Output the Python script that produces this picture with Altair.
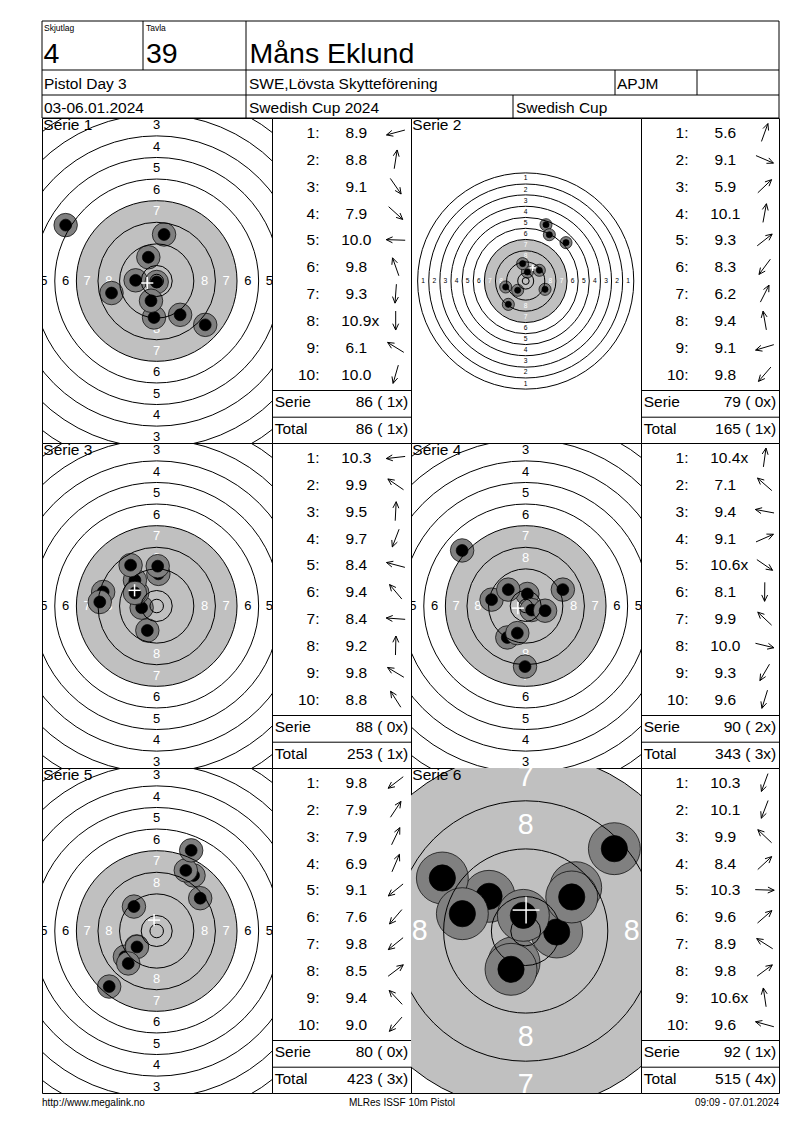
import math
import altair as alt
import pandas as pd

FONT = "Liberation Sans"

# ---------------- data ----------------
SQUAD_LABEL, SQUAD = "Skjutlag", "4"
LANE_LABEL, LANE = "Tavla", "39"
SHOOTER = "Måns Eklund"
EVENT = "Pistol Day 3"
CLUB = "SWE,Lövsta Skytteförening"
CLASS_CODE = "APJM"
DATES = "03-06.01.2024"
COMPETITION = "Swedish Cup 2024"
CUP = "Swedish Cup"
FOOTER = ["http://www.megalink.no", "MLRes ISSF 10m Pistol", "09:09 - 07.01.2024"]

SERIES = ["Serie 1", "Serie 2", "Serie 3", "Serie 4", "Serie 5", "Serie 6"]
SCORES = [
    ["8.9", "8.8", "9.1", "7.9", "10.0", "9.8", "9.3", "10.9x", "6.1", "10.0"],
    ["5.6", "9.1", "5.9", "10.1", "9.3", "8.3", "6.2", "9.4", "9.1", "9.8"],
    ["10.3", "9.9", "9.5", "9.7", "8.4", "9.4", "8.4", "9.2", "9.8", "8.8"],
    ["10.4x", "7.1", "9.4", "9.1", "10.6x", "8.1", "9.9", "10.0", "9.3", "9.6"],
    ["9.8", "7.9", "7.9", "6.9", "9.1", "7.6", "9.8", "8.5", "9.4", "9.0"],
    ["10.3", "10.1", "9.9", "8.4", "10.3", "9.6", "8.9", "9.8", "10.6x", "9.6"],
]
SERIE_RESULT = ["86 ( 1x)", "79 ( 0x)", "88 ( 0x)", "90 ( 2x)", "80 ( 0x)", "92 ( 1x)"]
TOTAL_RESULT = ["86 ( 1x)", "165 ( 1x)", "253 ( 1x)", "343 ( 3x)", "423 ( 3x)", "515 ( 4x)"]

# shot positions on the target in mm (x right, y up)
SHOT_X = [
    [-16.73, 2.73, 8.68, 17.97, -7.81, -3.10, -0.99, 0.00, -33.72, -2.11],
    [14.6, 13.9, 29.0, 1.2, 9.8, -12.5, 17.0, -2.2, -14.4, -5.8],
    [-5.58, -7.19, 0.62, -3.47, -19.83, -8.06, -21.08, 0.37, -8.06, -9.67],
    [0.62, -23.55, -12.64, 13.76, 2.2, -0.25, -6.45, 7.19, -6.82, -3.10],
    [-7.44, 13.64, 10.78, 12.77, -11.78, -17.60, -7.30, 16.11, -8.43, -10.54],
    [-1.95, -2.46, -6.14, 14.85, 5.19, 8.38, -13.96, 7.71, -0.39, -10.61],
]
SHOT_Y = [
    [-4.46, 17.23, -12.52, -16.24, 0.25, 8.80, -13.51, -0.37, 20.70, -7.31],
    [40.5, -6.0, 27.6, 6.5, 7.7, -16.8, 33.3, 12.5, -4.3, -6.7],
    [-0.62, 4.96, 11.9, -9.05, 5.21, 9.54, 1.49, 14.75, 4.83, 15.13],
    [4.46, 20.58, 2.36, 6.07, -1.5, -22.44, 6.07, -1.74, -11.65, -10.04],
    [-5.70, 20.58, 22.44, 29.87, -9.55, -20.58, -5.90, 12.15, 9.05, -12.02],
    [-5.30, -6.42, 5.81, 13.79, -0.17, 7.26, 8.88, 5.70, 2.62, 2.90],
]

# ---------------- target geometry (ISSF 10m air pistol, mm) ----------------
RING_R = [5.75 + 8 * (10 - n) for n in range(1, 11)]
INNER_TEN = 2.5
AIM_R = 29.75
PELLET_R = 2.2
HALO_R = 4.35
CROSS = 2.25

# ---------------- layout ----------------
ZOOM = [2.7, 1.39, 2.7, 2.7, 2.7, 5.97]   # px per mm in each target panel
COL_W = [230, 139, 230, 138]
ROW_H = 325
HEADER_H = 97
FOOTER_H = 20
TOTAL_W = sum(COL_W)
CX, CY = 114.7, 163.0
F_MED = 15.5


def px_scales(w, h):
    xs = alt.Scale(domain=[0, w], nice=False, zero=False)
    ys = alt.Scale(domain=[0, h], nice=False, zero=False, reverse=True)
    X = lambda f: alt.X(f, type="quantitative", scale=xs, axis=None)
    Y = lambda f: alt.Y(f, type="quantitative", scale=ys, axis=None)
    return X, Y


def target_view(i):
    s = ZOOM[i]
    w, h = COL_W[0], ROW_H
    xs = alt.Scale(domain=[-CX / s, (w - CX) / s], nice=False, zero=False)
    ys = alt.Scale(domain=[-(h - CY) / s, CY / s], nice=False, zero=False)
    X = lambda f: alt.X(f, type="quantitative", scale=xs, axis=None)
    Y = lambda f: alt.Y(f, type="quantitative", scale=ys, axis=None)
    SZ = alt.Size("sz:Q", scale=None)

    def diam2(r_mm):
        return (2 * r_mm * s) ** 2

    disc = alt.Chart(pd.DataFrame({"x": [0.0], "y": [0.0], "sz": [diam2(AIM_R)]})).mark_point(
        shape="circle", filled=True, color="#c0c0c0", opacity=1, clip=True
    ).encode(x=X("x"), y=Y("y"), size=SZ)

    lab = []
    for n in range(1, 9):
        r = RING_R[n - 1] - 4
        c = "white" if n >= 7 else "black"
        for dx, dy in [(0, 1), (0, -1), (-1, 0), (1, 0)]:
            lab.append({"x": dx * r, "y": dy * r, "t": str(n), "c": c})
    labels = alt.Chart(pd.DataFrame(lab)).mark_text(
        font=FONT, fontSize=4.8 * s, align="center", baseline="middle", clip=True
    ).encode(x=X("x"), y=Y("y"), text="t:N", color=alt.Color("c:N", scale=None))

    sh = []
    for k in range(10):
        sh.append({"x": SHOT_X[i][k], "y": SHOT_Y[i][k], "sz": diam2(HALO_R), "c": "#808080"})
        sh.append({"x": SHOT_X[i][k], "y": SHOT_Y[i][k], "sz": diam2(PELLET_R), "c": "#000000"})
    shots = alt.Chart(pd.DataFrame(sh)).mark_point(
        shape="circle", filled=True, opacity=1, stroke="black", strokeWidth=0.7, clip=True
    ).encode(x=X("x"), y=Y("y"), size=SZ, color=alt.Color("c:N", scale=None))

    rings = alt.Chart(pd.DataFrame({"x": 0.0, "y": 0.0,
                                    "sz": [diam2(r) for r in RING_R + [INNER_TEN]]})).mark_point(
        shape="circle", filled=False, color="black", strokeWidth=1, opacity=1, clip=True
    ).encode(x=X("x"), y=Y("y"), size=SZ)

    mx = sum(SHOT_X[i]) / 10
    my = sum(SHOT_Y[i]) / 10
    cross = alt.Chart(pd.DataFrame({
        "x1": [mx - CROSS, mx], "x2": [mx + CROSS, mx],
        "y1": [my, my - CROSS], "y2": [my, my + CROSS],
    })).mark_rule(color="white", strokeWidth=1.5, clip=True).encode(
        x=X("x1"), x2="x2:Q", y=Y("y1"), y2="y2:Q"
    )

    title = alt.Chart(pd.DataFrame({"t": [SERIES[i]]})).mark_text(
        font=FONT, fontSize=F_MED, align="left", baseline="alphabetic", color="black"
    ).encode(text="t:N", x=alt.value(1.3), y=alt.value(11.7))

    return alt.layer(disc, labels, shots, rings, cross, title).properties(
        width=w, height=h,
        view=alt.ViewBackground(stroke="black", strokeWidth=1, fill="white"),
    )


def text_width(t, size):
    wd = {".": 0.278}
    return sum(wd.get(ch, 0.556) for ch in t) * size


def table_view(i, w):
    h = ROW_H
    X, Y = px_scales(w, h)

    base = [20.0 + 26.86 * k for k in range(10)]
    num_x, score_c, arrow_c = 47.5, 84.3, 123.7

    nums = alt.Chart(pd.DataFrame({"x": num_x, "y": base, "t": [f"{k + 1}:" for k in range(10)]})).mark_text(
        font=FONT, fontSize=F_MED, align="right", baseline="alphabetic", color="black"
    ).encode(x=X("x"), y=Y("y"), text="t:N")

    main = [sc[:-1] if sc.endswith("x") else sc for sc in SCORES[i]]
    scores = alt.Chart(pd.DataFrame({"x": score_c, "y": base, "t": main})).mark_text(
        font=FONT, fontSize=F_MED, align="center", baseline="alphabetic", color="black"
    ).encode(x=X("x"), y=Y("y"), text="t:N")

    xs_rows = [
        {"x": score_c + text_width(main[k], F_MED) / 2, "y": base[k], "t": "x"}
        for k in range(10) if SCORES[i][k].endswith("x")
    ]
    layers = [nums, scores]
    if xs_rows:
        layers.append(alt.Chart(pd.DataFrame(xs_rows)).mark_text(
            font=FONT, fontSize=F_MED, align="left", baseline="alphabetic", color="black"
        ).encode(x=X("x"), y=Y("y"), text="t:N"))

    seg = []
    L, HL, HA = 19.0, 7.0, math.radians(25)
    for k in range(10):
        a = math.atan2(SHOT_Y[i][k], SHOT_X[i][k])
        cy = base[k] - 5.5
        tipx, tipy = arrow_c + L / 2 * math.cos(a), cy - L / 2 * math.sin(a)
        tlx, tly = arrow_c - L / 2 * math.cos(a), cy + L / 2 * math.sin(a)
        seg.append({"x1": tlx, "y1": tly, "x2": tipx, "y2": tipy})
        for sgn in (1, -1):
            b = a + sgn * HA
            seg.append({"x1": tipx, "y1": tipy,
                        "x2": tipx - HL * math.cos(b), "y2": tipy + HL * math.sin(b)})
    for yy in (272.5, 299.2):
        seg.append({"x1": 0, "y1": yy, "x2": w, "y2": yy})
    rules = alt.Chart(pd.DataFrame(seg)).mark_rule(color="black", strokeWidth=1).encode(
        x=X("x1"), x2="x2:Q", y=Y("y1"), y2="y2:Q"
    )
    layers.append(rules)

    lab = alt.Chart(pd.DataFrame({"x": 2.7, "y": [289.2, 315.8], "t": ["Serie", "Total"]})).mark_text(
        font=FONT, fontSize=F_MED, align="left", baseline="alphabetic", color="black"
    ).encode(x=X("x"), y=Y("y"), text="t:N")
    val = alt.Chart(pd.DataFrame({"x": w - 2.8, "y": [289.2, 315.8],
                                  "t": [SERIE_RESULT[i], TOTAL_RESULT[i]]})).mark_text(
        font=FONT, fontSize=F_MED, align="right", baseline="alphabetic", color="black"
    ).encode(x=X("x"), y=Y("y"), text="t:N")
    layers += [lab, val]

    return alt.layer(*layers).properties(
        width=w, height=h,
        view=alt.ViewBackground(stroke="black", strokeWidth=1, fill="white"),
    )


def header_view():
    # drawn inside the first column's cell, extending across the full width
    w, h = COL_W[0], HEADER_H
    X, Y = px_scales(w, h)
    W = TOTAL_W
    seg = pd.DataFrame([
        {"x1": 0, "y1": 0, "x2": W, "y2": 0},
        {"x1": 0, "y1": 49, "x2": W, "y2": 49},
        {"x1": 0, "y1": 74, "x2": W, "y2": 74},
        {"x1": 0, "y1": h, "x2": W, "y2": h},
        {"x1": 0, "y1": 0, "x2": 0, "y2": h},
        {"x1": W, "y1": 0, "x2": W, "y2": h},
        {"x1": 101, "y1": 0, "x2": 101, "y2": 49},
        {"x1": 204, "y1": 0, "x2": 204, "y2": h},
        {"x1": 573, "y1": 49, "x2": 573, "y2": 74},
        {"x1": 655, "y1": 49, "x2": 655, "y2": 74},
        {"x1": 471, "y1": 74, "x2": 471, "y2": h},
    ])
    rules = alt.Chart(seg).mark_rule(color="black", strokeWidth=1).encode(
        x=X("x1"), x2="x2:Q", y=Y("y1"), y2="y2:Q"
    )

    def txt(rows, size):
        return alt.Chart(pd.DataFrame(rows, columns=["x", "y", "t"])).mark_text(
            font=FONT, fontSize=size, align="left", baseline="alphabetic", color="black"
        ).encode(x=X("x"), y=Y("y"), text="t:N")

    small = txt([(2, 9.7, SQUAD_LABEL), (104, 9.7, LANE_LABEL)], 8.5)
    big = txt([(1.5, 41.7, SQUAD), (104, 41.7, LANE), (207.5, 42, SHOOTER)], 28.5)
    med = txt([(2, 68.3, EVENT), (207, 68.3, CLUB), (575, 68.3, CLASS_CODE),
               (2, 92, DATES), (207, 92, COMPETITION), (474, 92, CUP)], F_MED)
    return alt.layer(rules, small, big, med).properties(
        width=w, height=h,
        view=alt.ViewBackground(strokeOpacity=0, fillOpacity=0),
    )


def footer_view():
    w, h = COL_W[0], FOOTER_H
    X, Y = px_scales(w, h)
    layers = []
    for (xx, al, t) in [(0, "left", FOOTER[0]), (360, "center", FOOTER[1]),
                        (TOTAL_W, "right", FOOTER[2])]:
        layers.append(alt.Chart(pd.DataFrame({"x": [xx], "y": [13.0], "t": [t]})).mark_text(
            font=FONT, fontSize=10, align=al, baseline="alphabetic", color="black"
        ).encode(x=X("x"), y=Y("y"), text="t:N"))
    return alt.layer(*layers).properties(
        width=w, height=h,
        view=alt.ViewBackground(strokeOpacity=0, fillOpacity=0),
    )


def empty_view(w, h):
    return alt.Chart(pd.DataFrame({"t": [""]})).mark_text(opacity=0).encode(
        text="t:N"
    ).properties(width=w, height=h, view=alt.ViewBackground(strokeOpacity=0, fillOpacity=0))


cells = [header_view()] + [empty_view(COL_W[c], HEADER_H) for c in (1, 2, 3)]
for r in range(3):
    a, b = 2 * r, 2 * r + 1
    cells += [target_view(a), table_view(a, COL_W[1]), target_view(b), table_view(b, COL_W[3])]
cells += [footer_view()] + [empty_view(COL_W[c], FOOTER_H) for c in (1, 2, 3)]

chart = alt.concat(*cells, columns=4, spacing=0, bounds="flush").properties(
    padding={"left": 33, "top": 12, "right": 4, "bottom": 4},
    background="white",
).configure(font=FONT)

chart.save("out.html", embed_options={"renderer": "svg", "actions": False})
